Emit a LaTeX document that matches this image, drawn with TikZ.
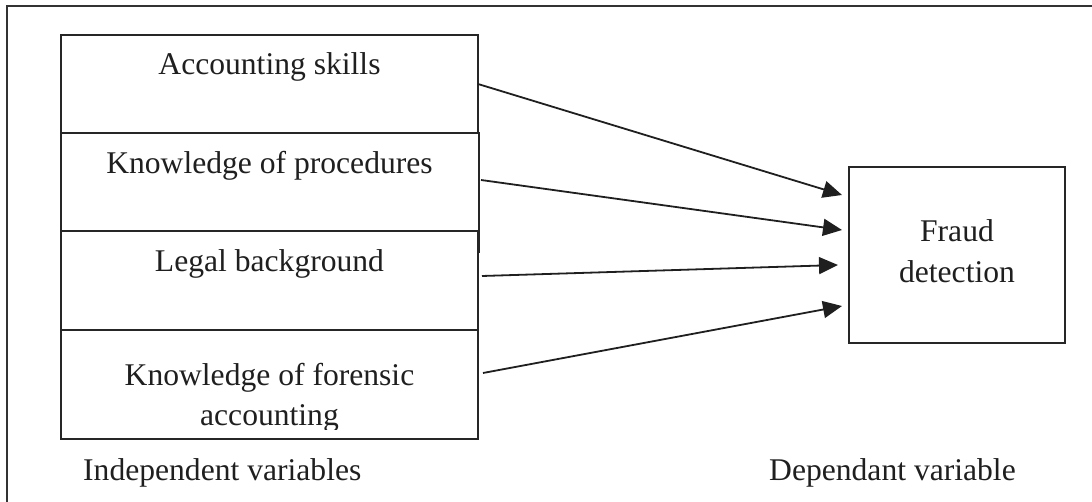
\documentclass[tikz,border=0pt]{standalone}
\usepackage{fontspec}
\setmainfont{Liberation Serif}
\usetikzlibrary{arrows.meta}
\begin{document}
\begin{tikzpicture}[x=1pt,y=-1pt,
  frame/.style={draw=black!80, line width=1.5pt},
  boxn/.style={draw=black!85, line width=1.5pt, fill=white, inner sep=0pt, outer sep=0pt, anchor=north west},
  lbl/.style={font=\fontsize{31.6}{41}\selectfont, text=black!88, inner sep=0pt, anchor=base},
  arr/.style={draw=black!88, line width=1.8pt, -{Triangle[length=19pt,width=17pt]}}]
\useasboundingbox (0,0) rectangle (1092,502);
\draw[frame] (7,502) -- (7,6) -- (1092,6);

\node[boxn, minimum width=417pt, minimum height=98pt] (b1) at (61,35) {};
\node[boxn, minimum width=418pt, minimum height=119pt] (b2) at (61,133) {};
\node[boxn, minimum width=417pt, minimum height=99pt] (b3) at (61,231) {};
\node[boxn, minimum width=417pt, minimum height=109pt] (b4) at (61,330) {};

\node[lbl] (t1) at (269.5,75) {Accounting skills};
\node[lbl] (t2) at (269.5,174) {Knowledge of procedures};
\node[lbl] (t3) at (269.5,272) {Legal background};
\node[lbl] (t4a) at (269.5,385) {Knowledge of forensic};
\begin{scope}
\clip (61,330) rectangle (478,429);
\node[lbl] (t4b) at (269.5,425) {accounting};
\end{scope}

\node[boxn, minimum width=216pt, minimum height=176pt] (fr) at (849,167) {};
\node[lbl] (f1) at (957,242) {Fraud};
\node[lbl] (f2) at (957,283) {detection};

\node[lbl, anchor=base west] (iv) at (83,480) {Independent variables};
\node[lbl, anchor=base west] (dv) at (769,480) {Dependant variable};

\draw[arr] (b1.east) -- ([xshift=-7pt,yshift=60pt]fr.west);
\draw[arr] ([xshift=2pt,yshift=12.5pt]b2.east) -- ([xshift=-7pt,yshift=25pt]fr.west);
\draw[arr] ([xshift=4pt,yshift=4.5pt]b3.east) -- ([xshift=-11pt,yshift=-10pt]fr.west);
\draw[arr] ([xshift=5pt,yshift=11.5pt]b4.east) -- ([xshift=-7pt,yshift=-51pt]fr.west);
\end{tikzpicture}
\end{document}
